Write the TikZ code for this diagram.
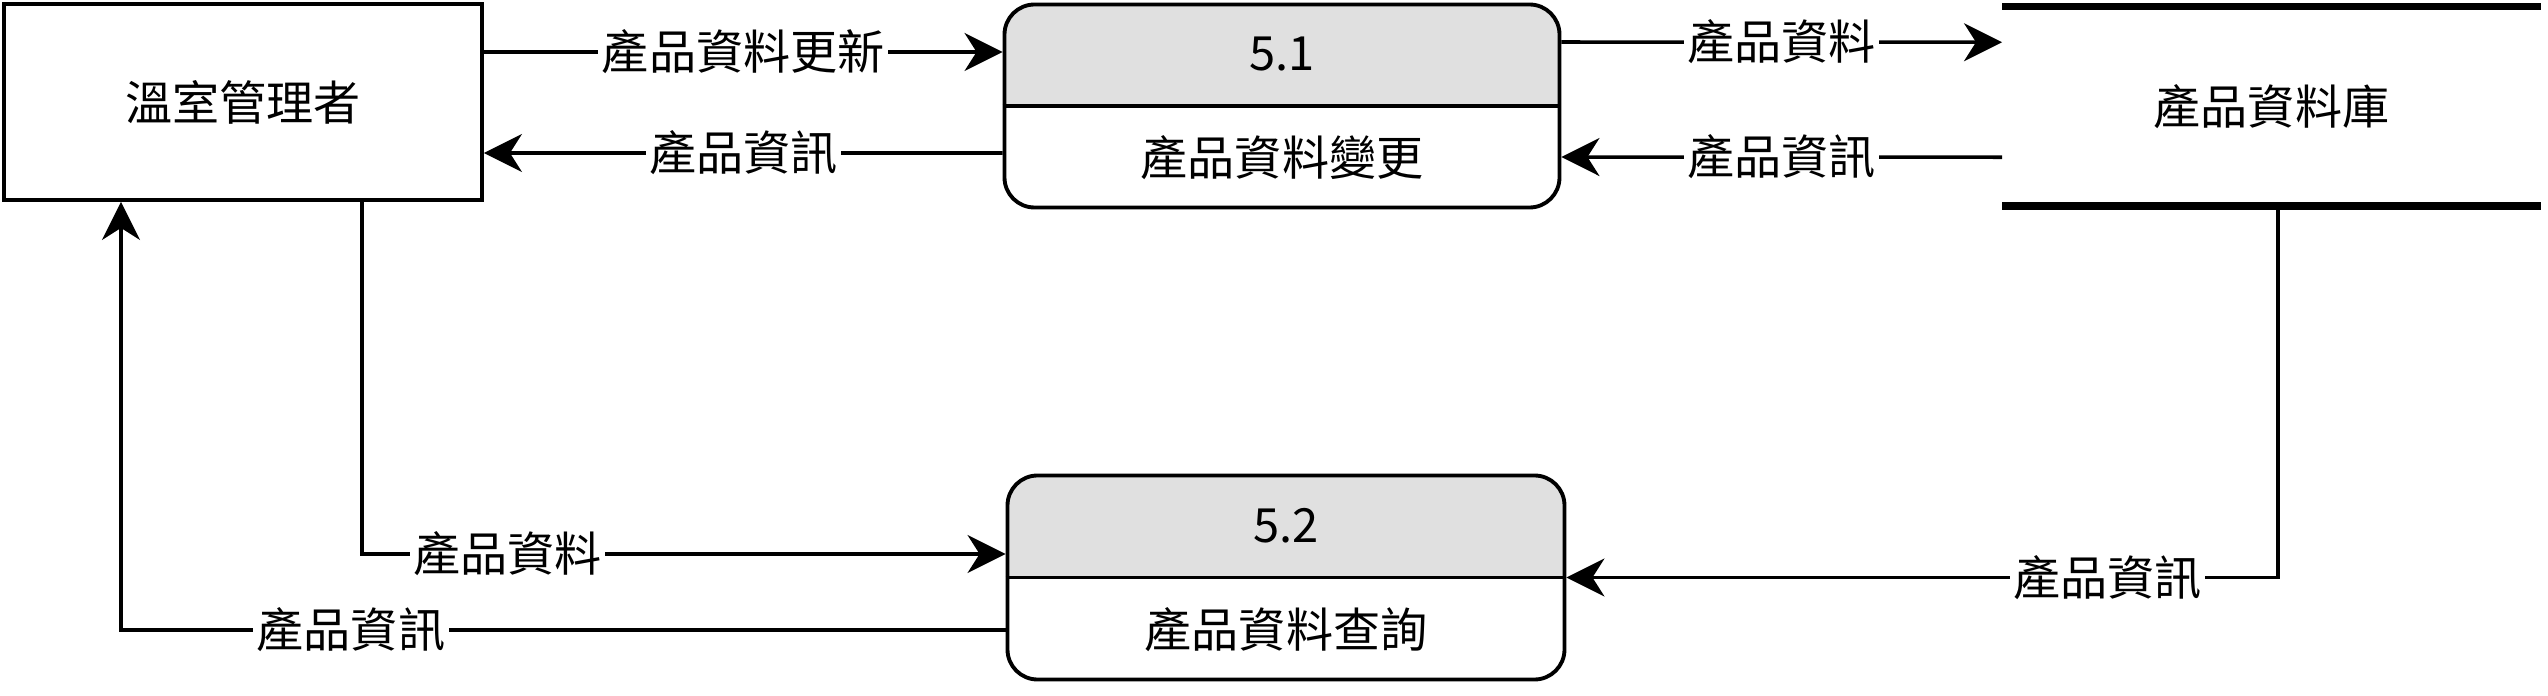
\documentclass[tikz,border=0pt]{standalone}
\usepackage{fontspec}
\setmainfont{Noto Sans CJK TC}
\usetikzlibrary{positioning,calc,arrows.meta}
\definecolor{headgray}{RGB}{224,224,224}
\tikzset{
    every node/.style={font=\fontsize{13.4pt}{16pt}\selectfont},
    entitybox/.style={draw, line width=1.1pt, minimum width=47.8mm, minimum height=19.6mm, align=center},
    procbox/.style={draw, line width=1.1pt, rounded corners=3mm, minimum width=55.5mm, minimum height=20.3mm,
        path picture={\fill[headgray, sharp corners] (path picture bounding box.north west) rectangle (path picture bounding box.east);}},
    storebox/.style={minimum width=53.9mm, minimum height=19.95mm, outer sep=0pt, align=center},
    storeline/.style={line width=2.1pt},
    divline/.style={line width=1.1pt},
    arrow/.style={-{Stealth[length=3.8mm, width=3.8mm, inset=1.2mm]}, line width=1pt},
    flowlabel/.style={fill=white, inner sep=1pt},
}
\begin{document}
\begin{tikzpicture}
\useasboundingbox (0,0) rectangle (25.48,-6.96);

% external entity and data store
\node[entitybox] (mgr) at (2.43,-1.02) {溫室管理者};
\node[storebox] (store) at (22.715,-1.0625) {產品資料庫};
\draw[storeline] (store.north west) -- (store.north east);
\draw[storeline] (store.south west) -- (store.south east);

% processes
\node[procbox] (p51) at (12.82,-1.06) {};
\draw[divline] (p51.west) -- (p51.east);
\node (p51id) at ($(p51.north)!0.5!(p51.center)$) {5.1};
\node (p51name) at ($(p51.south)!0.5!(p51.center)$) {產品資料變更};

\node[procbox, minimum width=55.7mm, minimum height=20.4mm] (p52) at (12.86,-5.775) {};
\draw[divline] (p52.west) -- (p52.east);
\node (p52id) at ($(p52.north)!0.5!(p52.center)$) {5.2};
\node (p52name) at ($(p52.south)!0.5!(p52.center)$) {產品資料查詢};

% flows around 5.1
\draw[arrow] ([yshift=5mm]mgr.east) -- node[flowlabel] {產品資料更新} ([yshift=5.4mm]p51.west);
\draw[arrow] ([yshift=-4.7mm]p51.west) -- node[flowlabel] {產品資訊} ([yshift=-5.1mm]mgr.east);
\draw[arrow] ([yshift=6.4mm]p51.east) -- node[flowlabel] {產品資料} ([yshift=6.4mm]store.west);
\draw[arrow] ([yshift=-5.1mm]store.west) -- node[flowlabel] {產品資訊} ([yshift=-5.1mm]p51.east);

% flows around 5.2
\draw[arrow] ([xshift=11.9mm]mgr.south) |- node[flowlabel, pos=0.613] {產品資料} ([yshift=2.35mm]p52.west);
\draw[arrow] ([yshift=-5.25mm]p52.west) -| node[flowlabel, pos=0.37] {產品資訊} ([xshift=-12.2mm]mgr.south);
\draw[arrow] ([xshift=0.65mm]store.south) |- node[flowlabel, pos=0.62] {產品資訊} (p52.east);

\end{tikzpicture}
\end{document}
